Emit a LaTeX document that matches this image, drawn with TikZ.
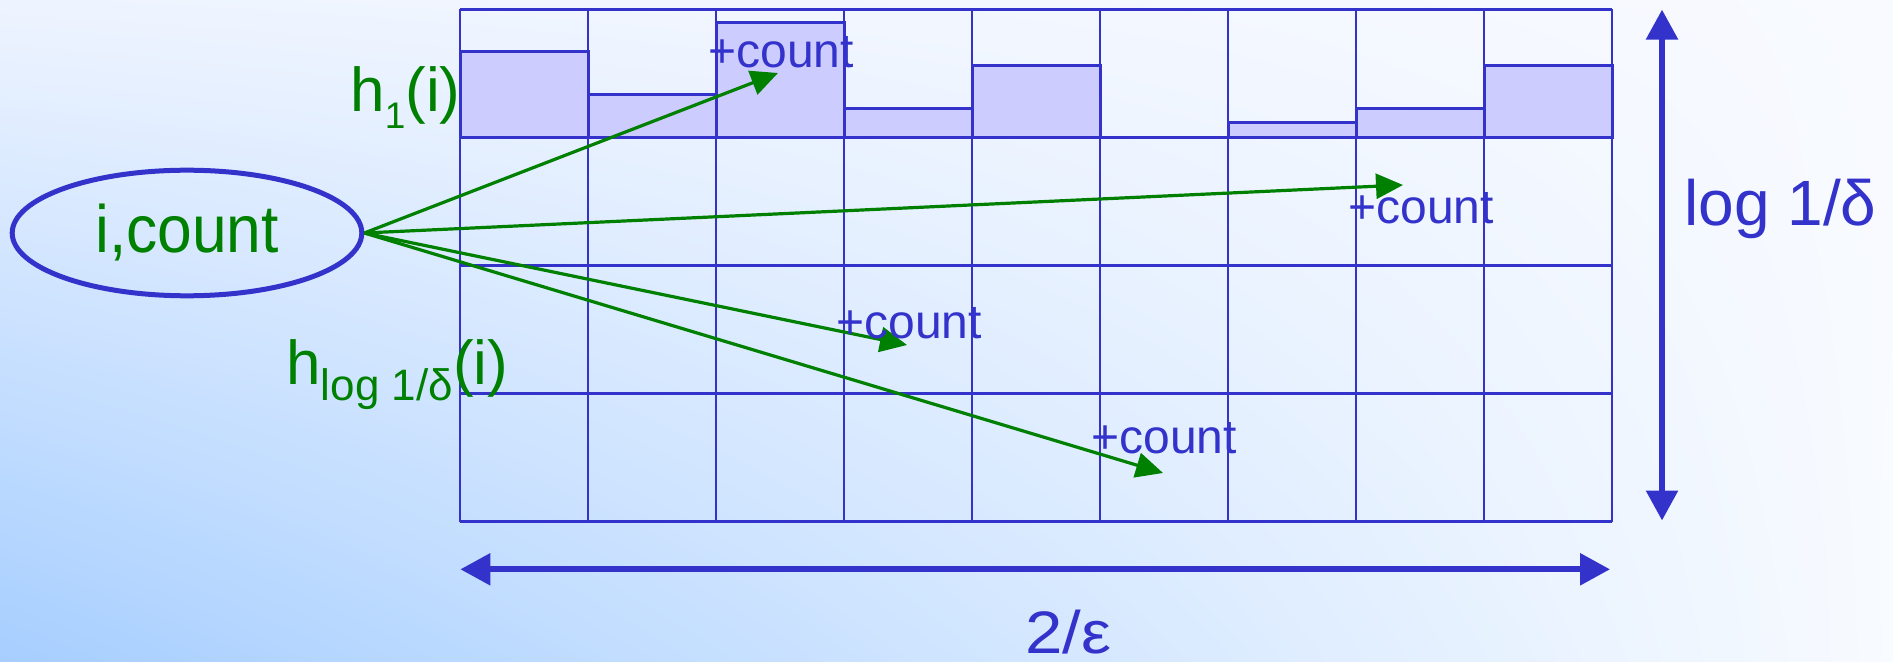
\documentclass[tikz,border=0pt]{standalone}
\usepackage{fontspec}
\setmainfont{Liberation Sans}
\usetikzlibrary{arrows.meta,shapes.geometric,shadings}
\definecolor{pblue}{HTML}{3333CC}
\definecolor{pgreen}{HTML}{008000}
\definecolor{pbar}{HTML}{CCCCFF}
\definecolor{bgTL}{HTML}{EEF4FF}
\definecolor{bgTR}{HTML}{F8FAFF}
\definecolor{bgBL}{HTML}{A6CEFF}
\definecolor{bgBR}{HTML}{F8FBFF}
\begin{document}
\begin{tikzpicture}[x=0.5pt,y=-0.5pt,
  garrow/.style={draw=pgreen, line width=1.6pt, -{Triangle[length=13.5pt,width=12.5pt]}},
  barrow/.style={draw=pblue, line width=2.9pt, {Triangle[length=15pt,width=15.5pt]}-{Triangle[length=15pt,width=15.5pt]}},
  cnt/.style={font=\fontsize{24}{24}\selectfont, text=pblue, inner sep=0pt, anchor=base west},
  gtext/.style={font=\fontsize{31}{31}\selectfont, text=pgreen, inner sep=0pt, anchor=base west},
  btext/.style={text=pblue, inner sep=0pt, anchor=base west},
  gridl/.style={draw=pblue, line width=1.1pt},
  barbox/.style={draw=pblue, fill=pbar, line width=1.5pt},
  srcbox/.style={ellipse, draw=pblue, line width=2.5pt, minimum width=174.8pt, minimum height=62.8pt, inner sep=0pt, text=pgreen, font=\fontsize{33.5}{33.5}\selectfont}
]
\useasboundingbox (0,0) rectangle (1893,662);
\shade[upper left=bgTL, upper right=bgTR, lower left=bgBL, lower right=bgBR] (0,0) rectangle (1893,662);

% bars of the first row
\foreach \i/\t in {0/51.7,1/94.3,2/23,3/108.3,4/66,6/122.7,7/108.3,8/66}
  \draw[barbox] ({460+128*\i},\t) rectangle ({588+128*\i},137.5);

% grid
\foreach \i in {0,...,9}
  \draw[gridl] ({460+128*\i},9.5) -- ({460+128*\i},521.5);
\foreach \y in {9.5,137.5,265.5,393.5,521.5}
  \draw[gridl] (460,\y) -- (1612,\y);

% source ellipse
\node[srcbox] (src) at (187,233) {\raisebox{-1.5pt}{\scalebox{0.93}[1]{i,count}}};

% hash labels
\node[gtext] (h1) at (350,111.7) {h\raisebox{-8.3pt}{\fontsize{18.5}{18.5}\selectfont 1}(i)};
\node[gtext] (hlog) at (286,384) {h\raisebox{-8pt}{\fontsize{22}{22}\selectfont log 1/δ}(i)};

% arrow tips
\coordinate (t1) at (778,73);
\coordinate (t2) at (1403,185);
\coordinate (t3) at (907,345);
\coordinate (t4) at (1163,473);
\draw[garrow] (src.east) -- (t1);
\draw[garrow] (src.east) -- (t2);
\draw[garrow] (src.east) -- (t3);
\draw[garrow] (src.east) -- (t4);

% +count labels
\node[cnt] (c1) at (708,68) {+count};
\node[cnt] (c2) at (1348,223.3) {+count};
\node[cnt] (c3) at (836,338) {+count};
\node[cnt] (c4) at (1091,453) {+count};

% dimension arrows
\coordinate (vtop) at (1662,9.6);
\coordinate (vbot) at (1662,520.5);
\draw[barrow] (vtop) -- (vbot);
\node[btext, font=\fontsize{32}{32}\selectfont] (rows) at (1684,225.5) {log 1/δ};

\coordinate (hleft) at (460.4,569.3);
\coordinate (hright) at (1610,569.3);
\draw[barrow] (hleft) -- (hright);
\node[btext, font=\fontsize{30}{30}\selectfont] (cols) at (1025,653) {\scalebox{1.12}[1]{2/ε}};
\end{tikzpicture}
\end{document}
